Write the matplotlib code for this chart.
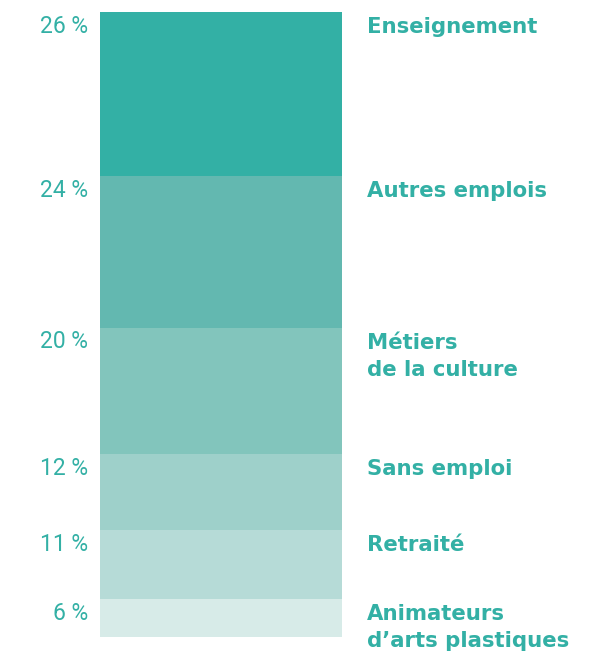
import numpy as np
import matplotlib.pyplot as plt

# top to bottom
categories = ['Enseignement', 'Autres emplois', 'Métiers\nde la culture',
              'Sans emploi', 'Retraité', "Animateurs\nd\u2019arts plastiques"]
values = [26, 24, 20, 12, 11, 6]
colors = ['#33b0a5', '#63b8b0', '#82c5bc', '#9ed0ca', '#b6dbd7', '#d7ebe8']
txt_color = '#33b0a5'

fig = plt.figure(figsize=(6.02, 6.52), dpi=100)
ax = fig.add_axes([100/602, 15/652, 242/602, 625/652])

vals = np.array(values[::-1])
bottoms = np.concatenate([[0], np.cumsum(vals)[:-1]])
ax.bar(0.5, vals, width=1.0, bottom=bottoms, color=colors[::-1], linewidth=0)
ax.set_xlim(0, 1)
ax.set_ylim(0, vals.sum())
ax.axis('off')

tops = (bottoms + vals)[::-1]
for cat, v, top in zip(categories, values, tops):
    ax.annotate('%d %%' % v, xy=(-0.05, top), xycoords=('axes fraction', 'data'),
                xytext=(0, -15), textcoords='offset points',
                ha='right', va='baseline', fontsize=16.5, color=txt_color,
                family='Roboto', fontweight='normal')
    ax.annotate(cat, xy=(1.103, top), xycoords=('axes fraction', 'data'),
                xytext=(0, -3.5), textcoords='offset points',
                ha='left', va='top', fontsize=15.3,
                color=txt_color, family='DejaVu Sans', fontweight='bold',
                linespacing=1.45)

fig.savefig('out.png', dpi=100)
